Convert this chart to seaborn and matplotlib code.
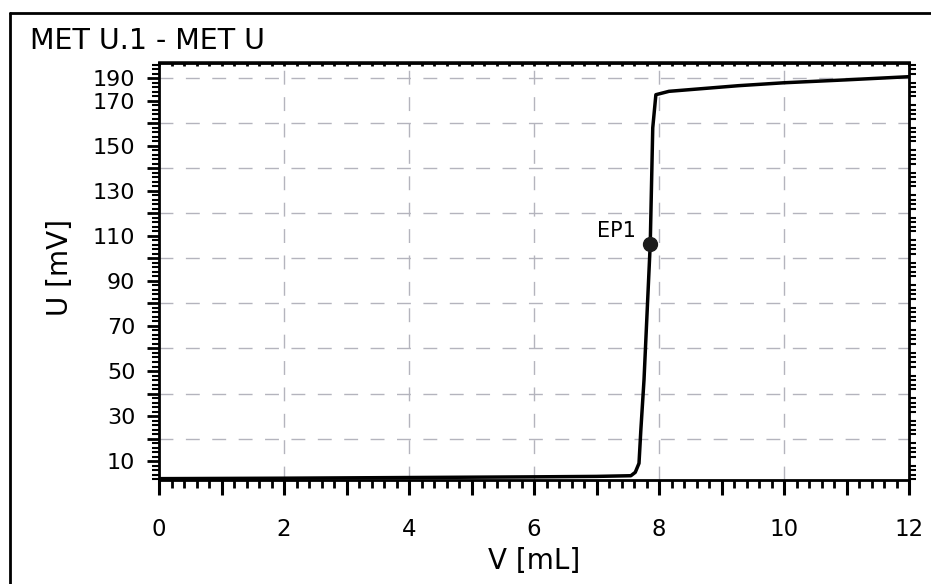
import numpy as np
import pandas as pd
import seaborn as sns
import matplotlib.pyplot as plt
from matplotlib.lines import Line2D
from matplotlib.ticker import MultipleLocator, FixedLocator, NullLocator

# titration curve
volume_ml = [0, 2, 4, 6, 7.0, 7.55, 7.62, 7.68, 7.71, 7.76, 7.86, 7.9, 7.95,
             8.16, 9.27, 10.0, 11.0, 12.0]
potential_mv = [2.2, 2.4, 2.7, 3.0, 3.2, 3.5, 5, 9, 24, 46, 106.5, 158, 172.7,
                174.2, 176.7, 178, 179.3, 180.7]

ep_volume = 7.86
ep_potential = 106.5
ep_label = 'EP1'

x_tick_pos = [0, 1, 2, 3, 4, 5, 6, 7, 8, 9, 10, 11, 12]
x_tick_labels = ['0', '', '2', '', '4', '', '6', '', '8', '', '10', '', '12']
y_tick_pos = [10, 20, 30, 40, 50, 60, 70, 80, 90, 100, 110, 120, 130, 140,
              150, 160, 170, 180]
y_tick_labels = ['10', '', '30', '', '50', '', '70', '', '90', '', '110', '',
                 '130', '', '150', '', '170', '190']
h_grid = [20, 40, 60, 80, 100, 120, 140, 160, 180]
v_grid = [2, 4, 6, 8, 10]

title = 'MET U.1 - MET U'


def main():
    sns.set_style('white')
    plt.rcParams['font.family'] = ['DejaVu Sans']
    plt.rcParams['text.color'] = 'black'
    plt.rcParams['axes.labelcolor'] = 'black'
    plt.rcParams['xtick.color'] = 'black'
    plt.rcParams['ytick.color'] = 'black'

    fig = plt.figure(figsize=(9.31, 5.84), dpi=100)
    ax = fig.add_axes([159 / 931, 1 - 480 / 584, 750 / 931, 417.5 / 584])

    # dashed grid
    for y in h_grid:
        ax.axhline(y, color='#b4b4bd', lw=1, ls=(0, (10, 9)), zorder=0)
    for x in v_grid:
        ax.axvline(x, color='#b4b4bd', lw=1, ls=(0, (10, 9)), zorder=0)

    df = pd.DataFrame({'V': volume_ml, 'U': potential_mv})
    sns.lineplot(data=df, x='V', y='U', sort=False, estimator=None,
                 color='black', lw=2.5, ax=ax)

    ax.plot([ep_volume], [ep_potential], 'o', color='#1c1c1c', ms=10, zorder=5)
    ax.annotate(ep_label, (ep_volume, ep_potential), xytext=(-10, 9),
                textcoords='offset points', ha='right', va='center',
                fontsize=15)

    ax.set_xlim(0, 12)
    ax.set_ylim(1.6, 187)

    ax.xaxis.set_major_locator(FixedLocator(x_tick_pos))
    ax.set_xticklabels(x_tick_labels)
    ax.xaxis.set_minor_locator(MultipleLocator(0.2))
    ax.yaxis.set_major_locator(FixedLocator(y_tick_pos))
    ax.set_yticklabels(y_tick_labels)
    ax.yaxis.set_minor_locator(MultipleLocator(2))

    for side in ax.spines.values():
        side.set_color('black')
        side.set_linewidth(2)

    ax.tick_params(axis='x', which='major', bottom=True, direction='out',
                   length=11, width=2.2, pad=16, labelsize=16.5)
    ax.tick_params(axis='x', which='minor', bottom=True, direction='out',
                   length=6, width=2)
    ax.tick_params(axis='y', which='major', left=True, direction='out',
                   length=9, width=2, pad=8, labelsize=16)
    ax.tick_params(axis='y', which='minor', left=True, right=True,
                   direction='out', length=5, width=1.5)

    # small inward ticks along the top edge
    top = ax.secondary_xaxis('top')
    top.xaxis.set_major_locator(NullLocator())
    top.xaxis.set_minor_locator(MultipleLocator(0.2))
    top.tick_params(which='minor', direction='in', length=3, width=2)
    top.spines['top'].set_linewidth(2)

    ax.set_xlabel('V [mL]', fontsize=20)
    ax.set_ylabel('U [mV]', fontsize=20)
    ax.xaxis.set_label_coords(0.5, -0.16)
    ax.yaxis.set_label_coords(-0.114, 0.508)

    fig.text(30 / 931, 1 - 41 / 584, title, fontsize=20.5, va='center',
             ha='left')

    # outer frame of the scanned box
    fig.add_artist(Line2D([10 / 931, 10 / 931], [0, 1 - 13 / 584],
                          color='black', lw=2, transform=fig.transFigure))
    fig.add_artist(Line2D([10 / 931, 1], [1 - 13 / 584, 1 - 13 / 584],
                          color='black', lw=2, transform=fig.transFigure))

    fig.savefig('out.png', dpi=100)


if __name__ == "__main__":
    main()
